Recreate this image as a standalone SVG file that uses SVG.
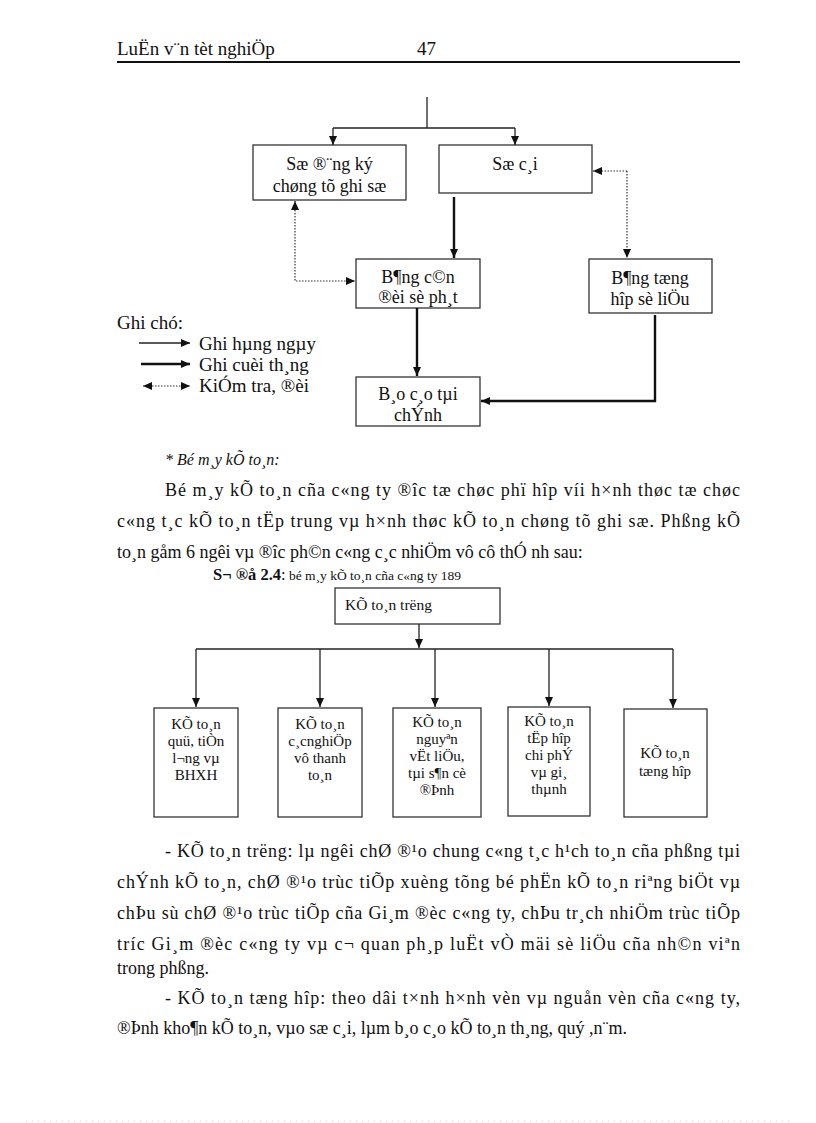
<svg xmlns="http://www.w3.org/2000/svg" width="816" height="1123" viewBox="0 0 816 1123">
<style>
text{font-family:"Liberation Serif","Times New Roman",serif;fill:#111}
.h{font-size:19px}
.b{font-size:18px}
.f{font-size:18px;text-anchor:middle}
.o{font-size:15px;text-anchor:middle}
.s{font-size:15.5px}
.box{fill:#fff;stroke:#333;stroke-width:1.3}
.thin{stroke:#222;stroke-width:1.3;fill:none}
.thick{stroke:#111;stroke-width:2.4;fill:none}
.dot{stroke:#333;stroke-width:1.2;stroke-dasharray:1.5 1.5;fill:none}
</style>
<defs>
<marker id="ah" markerWidth="9" markerHeight="8" refX="9" refY="4" orient="auto-start-reverse" markerUnits="userSpaceOnUse"><path d="M0,0 L9,4 L0,8 z" fill="#111"/></marker>
</defs>
<rect width="816" height="1123" fill="#fff"/>

<g id="header">
<text class="h" x="117" y="55">LuËn v¨n tèt nghiÖp</text>
<text class="h" x="417" y="55">47</text>
<line x1="117" y1="62" x2="740" y2="62" stroke="#111" stroke-width="2"/>
</g>

<g id="n-sodangky"><rect class="box" x="253" y="145" width="153" height="55"/>
<text class="f" x="329.5" y="170">Sæ ®¨ng ký</text><text class="f" x="329.5" y="192">chøng tõ ghi sæ</text></g>
<g id="n-socai"><rect class="box" x="439" y="145" width="153" height="48"/>
<text class="f" x="515" y="170">Sæ c¸i</text></g>
<g id="n-bangcandoi"><rect class="box" x="356" y="259" width="124" height="49"/>
<text class="f" x="418" y="283">B¶ng c©n</text><text class="f" x="418" y="303">®èi sè ph¸t</text></g>
<g id="n-bangtonghop"><rect class="box" x="589" y="259" width="123" height="54"/>
<text class="f" x="650" y="284">B¶ng tæng</text><text class="f" x="650" y="305">hîp sè liÖu</text></g>
<g id="n-baocao"><rect class="box" x="356" y="377" width="124" height="49"/>
<text class="f" x="418" y="400">B¸o c¸o tµi</text><text class="f" x="418" y="421">chÝnh</text></g>

<g id="connectors-top">
<path class="thin" d="M427,97 V128"/>
<path class="thin" d="M333,128 H515"/>
<path class="thin" d="M333,128 V145" marker-end="url(#ah)"/>
<path class="thin" d="M515,128 V145" marker-end="url(#ah)"/>
<path class="thick" d="M454,197 V258" marker-end="url(#ah)"/>
<path class="thick" d="M417,308 V376" marker-end="url(#ah)"/>
<path class="thick" d="M655,315 V401 H481" marker-end="url(#ah)"/>
<path class="dot" d="M627,171 H593" marker-end="url(#ah)"/>
<path class="dot" d="M627,171 V258" marker-end="url(#ah)"/>
<path class="dot" d="M295,201 V281 H355" marker-start="url(#ah)" marker-end="url(#ah)"/>
</g>

<g id="legend">
<text class="h" x="117" y="329">Ghi chó:</text>
<path class="thin" d="M139,343 H190" marker-end="url(#ah)"/>
<text class="h" x="199" y="350">Ghi hµng ngµy</text>
<path class="thick" d="M141,364 H190" marker-end="url(#ah)"/>
<text class="h" x="199" y="371">Ghi cuèi th¸ng</text>
<path class="dot" d="M143,386 H190" marker-start="url(#ah)" marker-end="url(#ah)"/>
<text class="h" x="199" y="392">KiÓm tra, ®èi</text>
</g>

<g id="para1">
<text x="165" y="465" font-size="16" font-style="italic">* Bé m¸y kÕ to¸n:</text>
<text class="b" x="165" y="496" textLength="575" lengthAdjust="spacing">Bé m¸y kÕ to¸n cña c«ng ty ®îc  tæ chøc phï hîp víi h×nh thøc tæ chøc</text>
<text class="b" x="117" y="527" textLength="623" lengthAdjust="spacing">c«ng t¸c kÕ to¸n tËp trung vµ h×nh thøc kÕ to¸n chøng tõ ghi  sæ. Phßng kÕ</text>
<text class="b" x="117" y="558">to¸n gåm 6 ngêi  vµ ®îc  ph©n c«ng c¸c nhiÖm vô cô thÓ nh  sau:</text>
<text x="213" y="580"><tspan font-size="16.5" font-weight="bold">S¬ ®å 2.4</tspan><tspan font-size="16.5">:</tspan><tspan font-size="13.5"> bé m¸y  kÕ to¸n cña c«ng  ty 189</tspan></text>
</g>

<g id="n-ketoantruong"><rect class="box" x="335" y="588" width="165" height="36"/>
<text class="s" x="345" y="610">KÕ to¸n trëng</text></g>
<g id="n-kt1"><rect class="box" x="154" y="708" width="84" height="109"/>
<text class="o" x="196" y="729">KÕ to¸n</text><text class="o" x="196" y="746">quü, tiÒn</text><text class="o" x="196" y="763">l¬ng  vµ</text><text class="o" x="196" y="780">BHXH</text></g>
<g id="n-kt2"><rect class="box" x="278" y="708" width="84" height="109"/>
<text class="o" x="320" y="729">KÕ to¸n</text><text class="o" x="320" y="746">c¸cnghiÖp</text><text class="o" x="320" y="763">vô thanh</text><text class="o" x="320" y="780">to¸n</text></g>
<g id="n-kt3"><rect class="box" x="393" y="708" width="88" height="109"/>
<text class="o" x="437" y="727">KÕ to¸n</text><text class="o" x="437" y="744">nguyªn</text><text class="o" x="437" y="761">vËt liÖu,</text><text class="o" x="437" y="778">tµi  s¶n cè</text><text class="o" x="437" y="795">®Þnh</text></g>
<g id="n-kt4"><rect class="box" x="508" y="707" width="82" height="109"/>
<text class="o" x="549" y="726">KÕ to¸n</text><text class="o" x="549" y="743">tËp hîp</text><text class="o" x="549" y="760">chi phÝ</text><text class="o" x="549" y="777">vµ  gi¸</text><text class="o" x="549" y="794">thµnh</text></g>
<g id="n-kt5"><rect class="box" x="624" y="709" width="83" height="108"/>
<text class="o" x="665" y="758">KÕ to¸n</text><text class="o" x="665" y="776">tæng hîp</text></g>

<g id="connectors-org">
<path class="thin" d="M419,624 V648" marker-end="url(#ah)"/>
<path class="thin" d="M196,649 H673"/>
<path class="thin" d="M196,649 V707" marker-end="url(#ah)"/>
<path class="thin" d="M320,649 V707" marker-end="url(#ah)"/>
<path class="thin" d="M435,649 V707" marker-end="url(#ah)"/>
<path class="thin" d="M549,649 V706" marker-end="url(#ah)"/>
<path class="thin" d="M673,649 V708" marker-end="url(#ah)"/>
</g>

<g id="para2">
<text class="b" x="165" y="857" textLength="575" lengthAdjust="spacing">- KÕ to¸n trëng:  lµ ngêi  chØ ®¹o chung c«ng t¸c h¹ch to¸n cña phßng tµi</text>
<text class="b" x="117" y="888" textLength="623" lengthAdjust="spacing">chÝnh kÕ to¸n, chØ ®¹o trùc tiÕp xuèng tõng bé phËn kÕ to¸n riªng biÖt vµ</text>
<text class="b" x="117" y="919" textLength="623" lengthAdjust="spacing">chÞu sù chØ ®¹o trùc tiÕp cña Gi¸m ®èc c«ng ty, chÞu tr¸ch nhiÖm trùc tiÕp</text>
<text class="b" x="117" y="950" textLength="623" lengthAdjust="spacing">tríc  Gi¸m ®èc c«ng ty vµ c¬ quan ph¸p luËt vÒ mäi sè liÖu  cña nh©n viªn</text>
<text class="b" x="117" y="974">trong phßng.</text>
<text class="b" x="165" y="1004" textLength="575" lengthAdjust="spacing">- KÕ to¸n tæng hîp: theo dâi t×nh h×nh vèn vµ nguån vèn cña c«ng ty,</text>
<text class="b" x="117" y="1034">®Þnh kho¶n kÕ to¸n, vµo sæ c¸i, lµm b¸o c¸o kÕ to¸n th¸ng, quý ,n¨m.</text>
</g>

<line x1="26" y1="1121" x2="791" y2="1121" stroke="#ccc" stroke-width="1" stroke-dasharray="1 5"/>
</svg>
